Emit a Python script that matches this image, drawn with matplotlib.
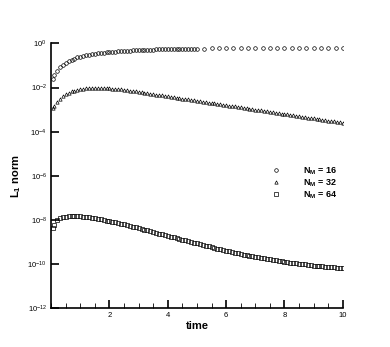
import matplotlib
matplotlib.use("Agg")
import matplotlib.pyplot as plt
from matplotlib.ticker import FixedLocator, MultipleLocator, NullLocator
import numpy as np

plt.rcParams["font.family"] = ["Liberation Sans", "DejaVu Sans"]
plt.rcParams["mathtext.fontset"] = "custom"
plt.rcParams["mathtext.rm"] = "Liberation Sans"
plt.rcParams["mathtext.bf"] = "Liberation Sans:bold"
plt.rcParams["mathtext.default"] = "regular"

# time levels and log10 of the L1 norm for each mesh
t_16 = [0.05, 0.1, 0.2, 0.3, 0.4, 0.5, 0.6, 0.7, 0.8, 0.9, 1.0,
        1.1, 1.2, 1.3, 1.4, 1.5, 1.6, 1.7, 1.8, 1.9, 2.0,
        2.1, 2.2, 2.3, 2.4, 2.5, 2.6, 2.7, 2.8, 2.9, 3.0,
        3.1, 3.2, 3.3, 3.4, 3.5, 3.6, 3.7, 3.8, 3.9, 4.0,
        4.1, 4.2, 4.3, 4.4, 4.5, 4.6, 4.7, 4.8, 4.9, 5.0,
        5.25, 5.5, 5.75, 6.0, 6.25, 6.5, 6.75, 7.0, 7.25, 7.5,
        7.75, 8.0, 8.25, 8.5, 8.75, 9.0, 9.25, 9.5, 9.75, 10.0]
log_16 = [-1.6, -1.45, -1.24, -1.08, -0.96, -0.87, -0.80, -0.74, -0.69, -0.64, -0.60,
          -0.57, -0.54, -0.51, -0.49, -0.47, -0.45, -0.43, -0.42, -0.40, -0.39,
          -0.38, -0.37, -0.36, -0.35, -0.34, -0.33, -0.325, -0.32, -0.31, -0.305,
          -0.30, -0.295, -0.29, -0.285, -0.28, -0.276, -0.272, -0.268, -0.265, -0.262,
          -0.259, -0.256, -0.253, -0.25, -0.248, -0.246, -0.244, -0.242, -0.24, -0.238,
          -0.234, -0.23, -0.227, -0.224, -0.221, -0.218, -0.216, -0.214, -0.212, -0.21,
          -0.208, -0.206, -0.204, -0.203, -0.202, -0.20, -0.199, -0.198, -0.197, -0.196]

t_fine = [0.05, 0.1, 0.2, 0.3, 0.4, 0.5, 0.6, 0.7, 0.8, 0.9, 1.0,
          1.1, 1.2, 1.3, 1.4, 1.5, 1.6, 1.7, 1.8, 1.9, 2.0,
          2.1, 2.2, 2.3, 2.4, 2.5, 2.6, 2.7, 2.8, 2.9, 3.0,
          3.1, 3.2, 3.3, 3.4, 3.5, 3.6, 3.7, 3.8, 3.9, 4.0,
          4.1, 4.2, 4.3, 4.4, 4.5, 4.6, 4.7, 4.8, 4.9, 5.0,
          5.1, 5.2, 5.3, 5.4, 5.5, 5.6, 5.7, 5.8, 5.9, 6.0,
          6.1, 6.2, 6.3, 6.4, 6.5, 6.6, 6.7, 6.8, 6.9, 7.0,
          7.1, 7.2, 7.3, 7.4, 7.5, 7.6, 7.7, 7.8, 7.9, 8.0,
          8.1, 8.2, 8.3, 8.4, 8.5, 8.6, 8.7, 8.8, 8.9, 9.0,
          9.1, 9.2, 9.3, 9.4, 9.5, 9.6, 9.7, 9.8, 9.9, 10.0]
log_32 = [-2.95, -2.85, -2.65, -2.50, -2.39, -2.31, -2.24, -2.18, -2.14, -2.10, -2.07,
          -2.05, -2.04, -2.03, -2.025, -2.02, -2.02, -2.02, -2.025, -2.03, -2.04,
          -2.05, -2.06, -2.075, -2.09, -2.105, -2.12, -2.14, -2.16, -2.18, -2.20,
          -2.22, -2.24, -2.26, -2.28, -2.30, -2.32, -2.34, -2.36, -2.38, -2.40,
          -2.42, -2.44, -2.46, -2.48, -2.50, -2.52, -2.54, -2.56, -2.58, -2.60,
          -2.62, -2.64, -2.66, -2.68, -2.70, -2.72, -2.74, -2.76, -2.78, -2.80,
          -2.82, -2.84, -2.86, -2.88, -2.90, -2.92, -2.94, -2.96, -2.98, -3.00,
          -3.02, -3.04, -3.06, -3.08, -3.10, -3.12, -3.14, -3.16, -3.18, -3.20,
          -3.22, -3.24, -3.26, -3.28, -3.30, -3.32, -3.34, -3.36, -3.38, -3.40,
          -3.42, -3.44, -3.46, -3.48, -3.50, -3.52, -3.54, -3.56, -3.58, -3.60]
log_64 = [-8.35, -8.22, -8.02, -7.93, -7.88, -7.85, -7.83, -7.82, -7.82, -7.83, -7.84,
          -7.85, -7.87, -7.89, -7.91, -7.93, -7.95, -7.98, -8.00, -8.03, -8.05,
          -8.08, -8.11, -8.14, -8.17, -8.20, -8.23, -8.27, -8.30, -8.34, -8.37,
          -8.41, -8.44, -8.48, -8.51, -8.55, -8.58, -8.62, -8.65, -8.69, -8.72,
          -8.76, -8.79, -8.83, -8.86, -8.90, -8.93, -8.97, -9.00, -9.04, -9.07,
          -9.10, -9.14, -9.17, -9.20, -9.24, -9.27, -9.30, -9.33, -9.36, -9.39,
          -9.42, -9.45, -9.48, -9.51, -9.54, -9.57, -9.59, -9.62, -9.65, -9.67,
          -9.70, -9.72, -9.75, -9.77, -9.79, -9.82, -9.84, -9.86, -9.88, -9.90,
          -9.92, -9.94, -9.96, -9.97, -9.99, -10.01, -10.02, -10.04, -10.05, -10.07,
          -10.08, -10.09, -10.11, -10.12, -10.13, -10.14, -10.15, -10.16, -10.17, -10.18]

labels = ["N$_\\mathbf{M}$ = 16", "N$_\\mathbf{M}$ = 32", "N$_\\mathbf{M}$ = 64"]
y_ticks = [1e-12, 1e-10, 1e-8, 1e-6, 1e-4, 1e-2, 1e0]
x_ticks = [2, 4, 6, 8, 10]

fig = plt.figure(figsize=(3.9, 3.47), dpi=100)
ax = fig.add_axes([0.131, 0.112, 0.748, 0.763])

ax.semilogy(t_16, 10.0 ** np.array(log_16), "o", ms=2.6, mfc="none", mec="black", mew=0.5, label=labels[0])
ax.semilogy(t_fine, 10.0 ** np.array(log_32), "^", ms=2.4, mfc="none", mec="black", mew=0.5, label=labels[1])
ax.semilogy(t_fine, 10.0 ** np.array(log_64), "s", ms=2.2, mfc="none", mec="black", mew=0.5, label=labels[2])

ax.set_xlim(0, 10)
ax.set_ylim(1e-12, 1e0)
ax.xaxis.set_major_locator(FixedLocator(x_ticks))
ax.xaxis.set_minor_locator(MultipleLocator(0.5))
ax.yaxis.set_major_locator(FixedLocator(y_ticks))
ax.yaxis.set_minor_locator(NullLocator())

for side in ["top", "right"]:
    ax.spines[side].set_visible(False)
for side in ["left", "bottom"]:
    ax.spines[side].set_linewidth(1.2)

ax.tick_params(which="major", direction="in", length=6, width=1.2, labelsize=5.5, pad=3, colors="black")
ax.tick_params(which="minor", direction="in", length=3.5, width=0.6)

ax.set_xlabel("time", fontsize=8, fontweight="bold", labelpad=1)
ax.set_ylabel("L$_\\mathbf{1}$ norm", fontsize=8, fontweight="bold", labelpad=3)

leg = ax.legend(loc="upper left", bbox_to_anchor=(0.72, 0.57), frameon=False,
                prop={"size": 6.5, "weight": "bold"}, handlelength=1.5, handletextpad=2.2,
                labelspacing=0.05, markerscale=1.0)

fig.savefig("out.png", dpi=100)
